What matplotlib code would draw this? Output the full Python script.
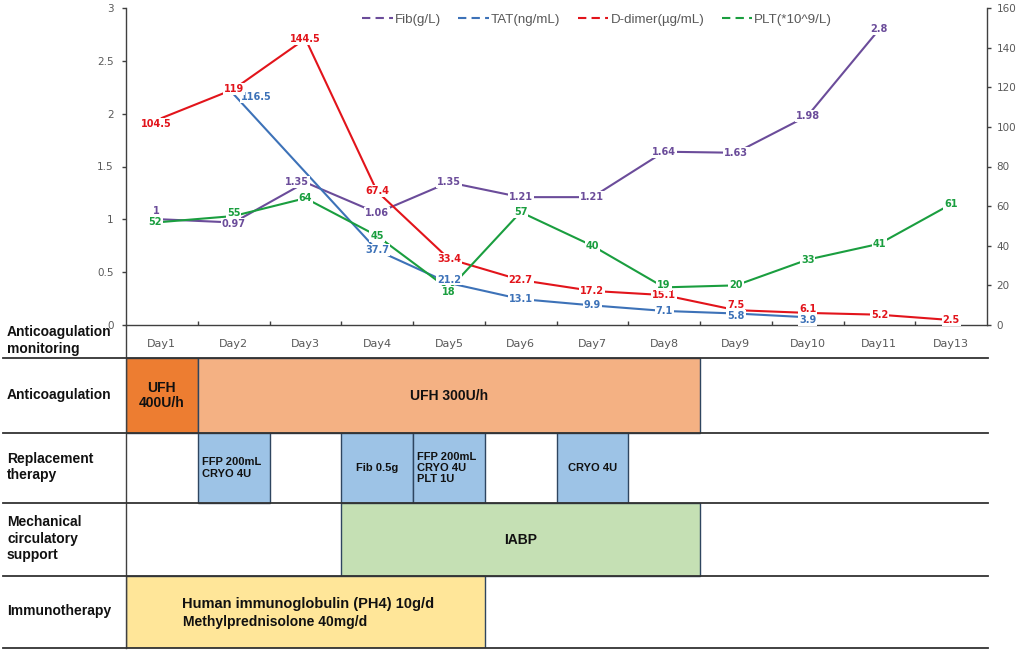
import matplotlib
matplotlib.use("Agg")
import matplotlib.pyplot as plt
from matplotlib.lines import Line2D

# ---------------- data ----------------
days = ["Day1", "Day2", "Day3", "Day4", "Day5", "Day6", "Day7", "Day8",
        "Day9", "Day10", "Day11", "Day13"]
fib = [1, 0.97, 1.35, 1.06, 1.35, 1.21, 1.21, 1.64, 1.63, 1.98, 2.8, None]
tat = [None, 116.5, None, 37.7, 21.2, 13.1, 9.9, 7.1, 5.8, 3.9, None, None]
ddimer = [104.5, 119, 144.5, 67.4, 33.4, 22.7, 17.2, 15.1, 7.5, 6.1, 5.2, 2.5]
plt_count = [52, 55, 64, 45, 18, 57, 40, 19, 20, 33, 41, 61]
series_names = ["Fib(g/L)", "TAT(ng/mL)", "D-dimer(µg/mL)", "PLT(*10^9/L)"]

left_ticks = [0, 0.5, 1, 1.5, 2, 2.5, 3]
right_ticks = [0, 20, 40, 60, 80, 100, 120, 140, 160]

row_labels = ["Anticoagulation\nmonitoring", "Anticoagulation",
              "Replacement\ntherapy", "Mechanical\ncirculatory\nsupport",
              "Immunotherapy"]

# treatment blocks: (first day index, last day index, label)
anticoag = [(0, 0, "UFH\n400U/h"), (1, 7, "UFH 300U/h")]
replacement = [(1, 1, "FFP 200mL\nCRYO 4U"), (3, 3, "Fib 0.5g"),
               (4, 4, "FFP 200mL\nCRYO 4U\nPLT 1U"), (6, 6, "CRYO 4U")]
mechanical = [(3, 7, "IABP")]
immuno = [(0, 4, "Human immunoglobulin (PH4) 10g/d", "Methylprednisolone 40mg/d")]

# ---------------- layout / style ----------------
W, H = 1026, 652
def fx(px): return px / W
def fy(py): return 1 - py / H

C_FIB = "#6B4C9A"
C_TAT = "#3D72B8"
C_DD = "#E2141B"
C_PLT = "#1A9E3F"
GRAY = "#595959"
SPINE = "#404040"
EDGE = "#2E4560"
C_UFH400 = "#ED7D31"
C_UFH300 = "#F4B183"
C_REPL = "#9DC3E6"
C_MECH = "#C5E0B4"
C_IMM = "#FFE699"

fig = plt.figure(figsize=(W / 100, H / 100), dpi=100)
fig.patch.set_facecolor("white")

L, R, T, B = 126, 987, 8, 325
ax = fig.add_axes([fx(L), fy(B), fx(R) - fx(L), fy(T) - fy(B)])
ax2 = ax.twinx()

x = list(range(len(days)))
ax.set_xlim(-0.5, len(days) - 0.5)
ax.set_ylim(0, 3)
ax2.set_ylim(0, 160)

def xy(vals):
    pts = [(i, v) for i, v in enumerate(vals) if v is not None]
    return [p[0] for p in pts], [p[1] for p in pts]

lw = 1.5
a_, b_ = xy(fib)
ax.plot(a_, b_, color=C_FIB, lw=lw, zorder=2)
for vals, col in [(tat, C_TAT), (ddimer, C_DD), (plt_count, C_PLT)]:
    a, b = xy(vals)
    ax2.plot(a, b, color=col, lw=lw, zorder=2)

def fmt(v):
    return "%g" % v

box = dict(boxstyle="square,pad=0.1", fc="white", ec="none")
# label nudges (points)
offsets = {("fib", 0): (-4, 6), ("plt", 0): (-5, 0), ("dd", 0): (-4, -4),
           ("fib", 2): (-6, 0), ("tat", 1): (16, -2),
           ("plt", 1): (0, 2), ("fib", 1): (0, -1),
           ("tat", 4): (0, 2.5), ("plt", 4): (0, -2),
           ("plt", 7): (0, 2), ("dd", 8): (0, 3.5), ("tat", 8): (0, -1.5),
           ("dd", 9): (0, 3), ("tat", 9): (0, -2)}
for key, vals, col, trans in [("fib", fib, C_FIB, ax.transData),
                              ("tat", tat, C_TAT, ax2.transData),
                              ("dd", ddimer, C_DD, ax2.transData),
                              ("plt", plt_count, C_PLT, ax2.transData)]:
    for i, v in enumerate(vals):
        if v is None:
            continue
        dx, dy = offsets.get((key, i), (0, 0))
        ax2.annotate(fmt(v), xy=(i, v), xycoords=trans, xytext=(dx, dy),
                     textcoords="offset points", ha="center", va="center",
                     fontsize=7, fontweight="bold", color=col,
                     family="DejaVu Sans", bbox=box, zorder=6,
                     annotation_clip=False)

# axes styling
for a in (ax, ax2):
    a.spines["top"].set_visible(False)
ax.spines["right"].set_visible(False)
ax2.spines["left"].set_visible(False)
ax2.spines["bottom"].set_visible(False)
for s in ("left", "bottom"):
    ax.spines[s].set_color(SPINE)
    ax.spines[s].set_linewidth(1.0)
ax2.spines["right"].set_color(SPINE)
ax2.spines["right"].set_linewidth(1.0)

ax.set_yticks(left_ticks)
ax.set_yticklabels([fmt(t) for t in left_ticks])
ax2.set_yticks(right_ticks)
ax2.set_yticklabels([fmt(t) for t in right_ticks])
ax.tick_params(axis="y", direction="out", length=3, width=1, color=SPINE,
               labelsize=7.5, labelcolor=GRAY, pad=6)
ax2.tick_params(axis="y", direction="out", length=3, width=1, color=SPINE,
                labelsize=7.5, labelcolor=GRAY, pad=4)
ax.set_xticks(x)
ax.set_xticklabels(days)
ax.set_xticks([i - 0.5 for i in range(1, len(days))], minor=True)
ax.tick_params(axis="x", which="major", length=0, labelsize=8,
               labelcolor=GRAY, pad=10)
ax.tick_params(axis="x", which="minor", direction="in", length=3, width=1,
               color=SPINE)
for lab in ax.get_xticklabels() + ax.get_yticklabels() + ax2.get_yticklabels():
    lab.set_family("DejaVu Sans")

# legend
handles = [Line2D([0], [0], color=c, lw=1.5, linestyle=(0, (4, 2.5)))
           for c in (C_FIB, C_TAT, C_DD, C_PLT)]
leg = fig.legend(handles, series_names, loc="center left",
                 bbox_to_anchor=(fx(362), fy(20)), ncol=4, frameon=False,
                 prop={"family": "Liberation Sans", "size": 9.6},
                 handlelength=2.3, handletextpad=0.15, columnspacing=1.3,
                 borderaxespad=0, borderpad=0)
for t in leg.get_texts():
    t.set_color(GRAY)

# ---------------- treatment table ----------------
TB = 648
row_edges = [325, 358, 433, 503, 576, 648]
axt = fig.add_axes([fx(L), fy(TB), fx(R) - fx(L), fy(B) - fy(TB)])
axt.set_xlim(-0.5, len(days) - 0.5)
axt.set_ylim(TB, B)
axt.set_xticks([])
axt.set_yticks([])
axt.patch.set_visible(False)
for s in ("top", "right", "bottom"):
    axt.spines[s].set_visible(False)
axt.spines["left"].set_color(SPINE)
axt.spines["left"].set_linewidth(1.0)

px_per_day = (R - L) / len(days)
pad_d = 4 / px_per_day
TXT = dict(fontweight="bold", family="Liberation Sans", color="#111111",
           zorder=3, linespacing=1.15)

def block(row, s, e, color):
    top, bot = row_edges[row], row_edges[row + 1]
    axt.bar(s - 0.5, bot - top, width=e - s + 1, bottom=top, align="edge",
            color=color, edgecolor=EDGE, linewidth=1.0, zorder=2)
    return (top + bot) / 2

# anticoagulation
for (s, e, label), col in zip(anticoag, [C_UFH400, C_UFH300]):
    yc = block(1, s, e, col)
    axt.text((s + e) / 2, yc, label, ha="center", va="center", fontsize=10,
             **TXT)

# replacement therapy
for s, e, label in replacement:
    yc = block(2, s, e, C_REPL)
    if "\n" in label:
        axt.text(s - 0.5 + pad_d, yc, label, ha="left", va="center",
                 fontsize=8, **TXT)
    else:
        axt.text((s + e) / 2, yc, label, ha="center", va="center",
                 fontsize=8, **TXT)

# mechanical support
for s, e, label in mechanical:
    yc = block(3, s, e, C_MECH)
    axt.text((s + e) / 2, yc, label, ha="center", va="center", fontsize=10,
             **TXT)

# immunotherapy
for s, e, l1, l2 in immuno:
    yc = block(4, s, e, C_IMM)
    x0 = s - 0.5 + (182 - L) / px_per_day
    axt.text(x0, yc - 8, l1, ha="left", va="center", fontsize=10.5, **TXT)
    axt.text(x0 + 1 / px_per_day, yc + 10, l2, ha="left", va="center",
             fontsize=10, **TXT)

# row labels
for i, lab in enumerate(row_labels):
    yc = (row_edges[i] + row_edges[i + 1]) / 2
    fig.text(fx(7), fy(yc - 1), lab, ha="left", va="center", fontsize=10,
             fontweight="bold", family="Liberation Sans", color="#111111",
             linespacing=1.2)

# horizontal separators
for yy in row_edges[1:]:
    fig.add_artist(Line2D([fx(3), fx(988)], [fy(yy), fy(yy)],
                          transform=fig.transFigure, color="#333333",
                          lw=1.3, zorder=5))

fig.savefig("out.png", dpi=100, facecolor="white")
